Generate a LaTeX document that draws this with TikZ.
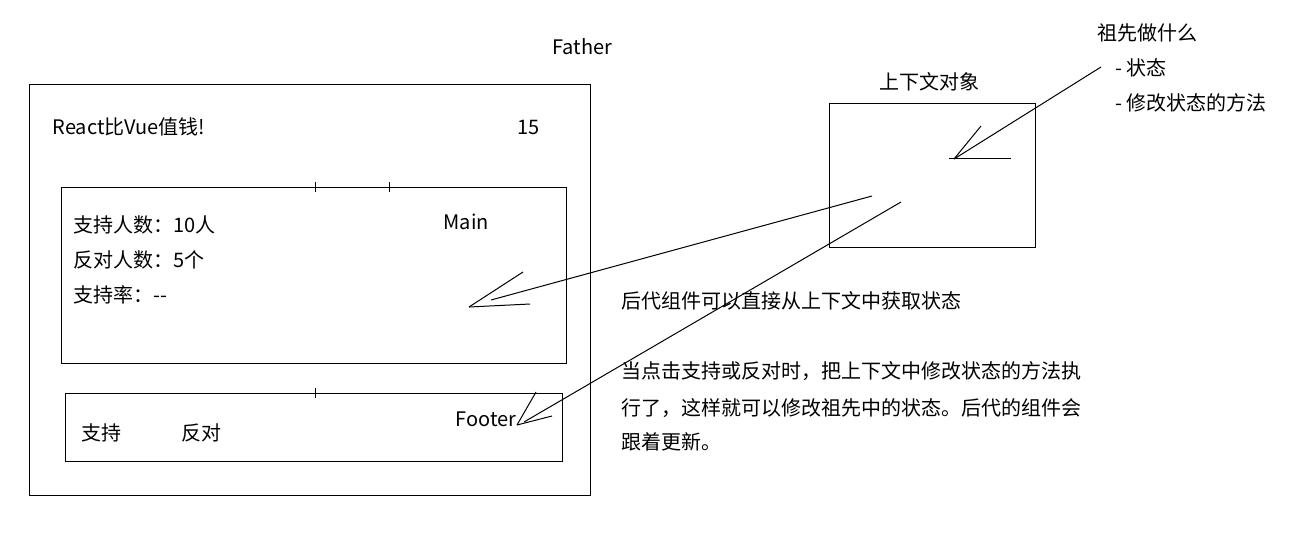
\documentclass[tikz,border=0pt]{standalone}
\usepackage{fontspec}
\setmainfont{Noto Sans CJK SC}
\usetikzlibrary{math}

\begin{document}
\begin{tikzpicture}[x=0.5pt,y=-0.5pt,line width=0.5pt,
  txt/.style={anchor=base west,inner sep=0pt,font=\fontsize{10}{12}\selectfont}]
\useasboundingbox (0,0) rectangle (1289,536);
\tikzmath{
\tk=5;
}

%boxes
\coordinate (F1) at (29,84);
\coordinate (F2) at (590,495);
\coordinate (M1) at (61,187);
\coordinate (M2) at (566,363);
\coordinate (Ft1) at (65,393);
\coordinate (Ft2) at (562,461);
\coordinate (C1) at (829,103);
\coordinate (C2) at (1035,247);

\draw (F1) rectangle (F2);
\draw (M1) rectangle (M2);
\draw (Ft1) rectangle (Ft2);
\draw (C1) rectangle (C2);

%small ticks
\draw (315,187-\tk) -- +(0,2*\tk);
\draw (389,187-\tk) -- +(0,2*\tk);
\draw (315,393-\tk) -- +(0,2*\tk);

%labels
\node[txt] (father) at (552,54) {Father};
\node[txt] (title) at (52,134) {React比Vue值钱!};
\node[txt] (count) at (517,134) {15};

\node[txt] (yes) at (73,232) {支持人数：10人};
\node[txt] (no) at (73,267) {反对人数：5个};
\node[txt] (rate) at (73,302) {支持率：-{}-};
\node[txt] (main) at (443,229) {Main};

\node[txt] (btnyes) at (81,440) {支持};
\node[txt] (btnno) at (181,440) {反对};
\node[txt] (footer) at (455,426) {Footer};

\node[txt] (ctx) at (879,89) {上下文对象};
\node[txt] (what) at (1097,40) {祖先做什么};
\node[txt] (st) at (1115,75) {- 状态};
\node[txt] (fn) at (1115,110) {- 修改状态的方法};

\node[txt] (note1) at (621,308) {后代组件可以直接从上下文中获取状态};
\node[txt] (note2) at (621,378) {当点击支持或反对时，把上下文中修改状态的方法执};
\node[txt] (note3) at (621,415) {行了，这样就可以修改祖先中的状态。后代的组件会};
\node[txt] (note4) at (621,449) {跟着更新。};

%hand drawn arrows
\coordinate (a1) at (1101,67);
\coordinate (h1) at (954,159);
\draw (a1) -- (h1);
\draw (h1) -- +(27,-33);
\draw (h1) ++(-5,-1) -- ++(62,0);

\coordinate (a2) at (872,196);
\coordinate (h2) at (469,307);
\draw (a2) -- (491,300);
\draw (h2) -- +(54,-35);
\draw (h2) -- +(61,-3);

\coordinate (a3) at (901,202);
\coordinate (h3) at (517,425);
\draw (a3) -- (524,422);
\draw (h3) -- +(19,-33);
\draw (h3) -- +(35,-9);

\end{tikzpicture}
\end{document}
